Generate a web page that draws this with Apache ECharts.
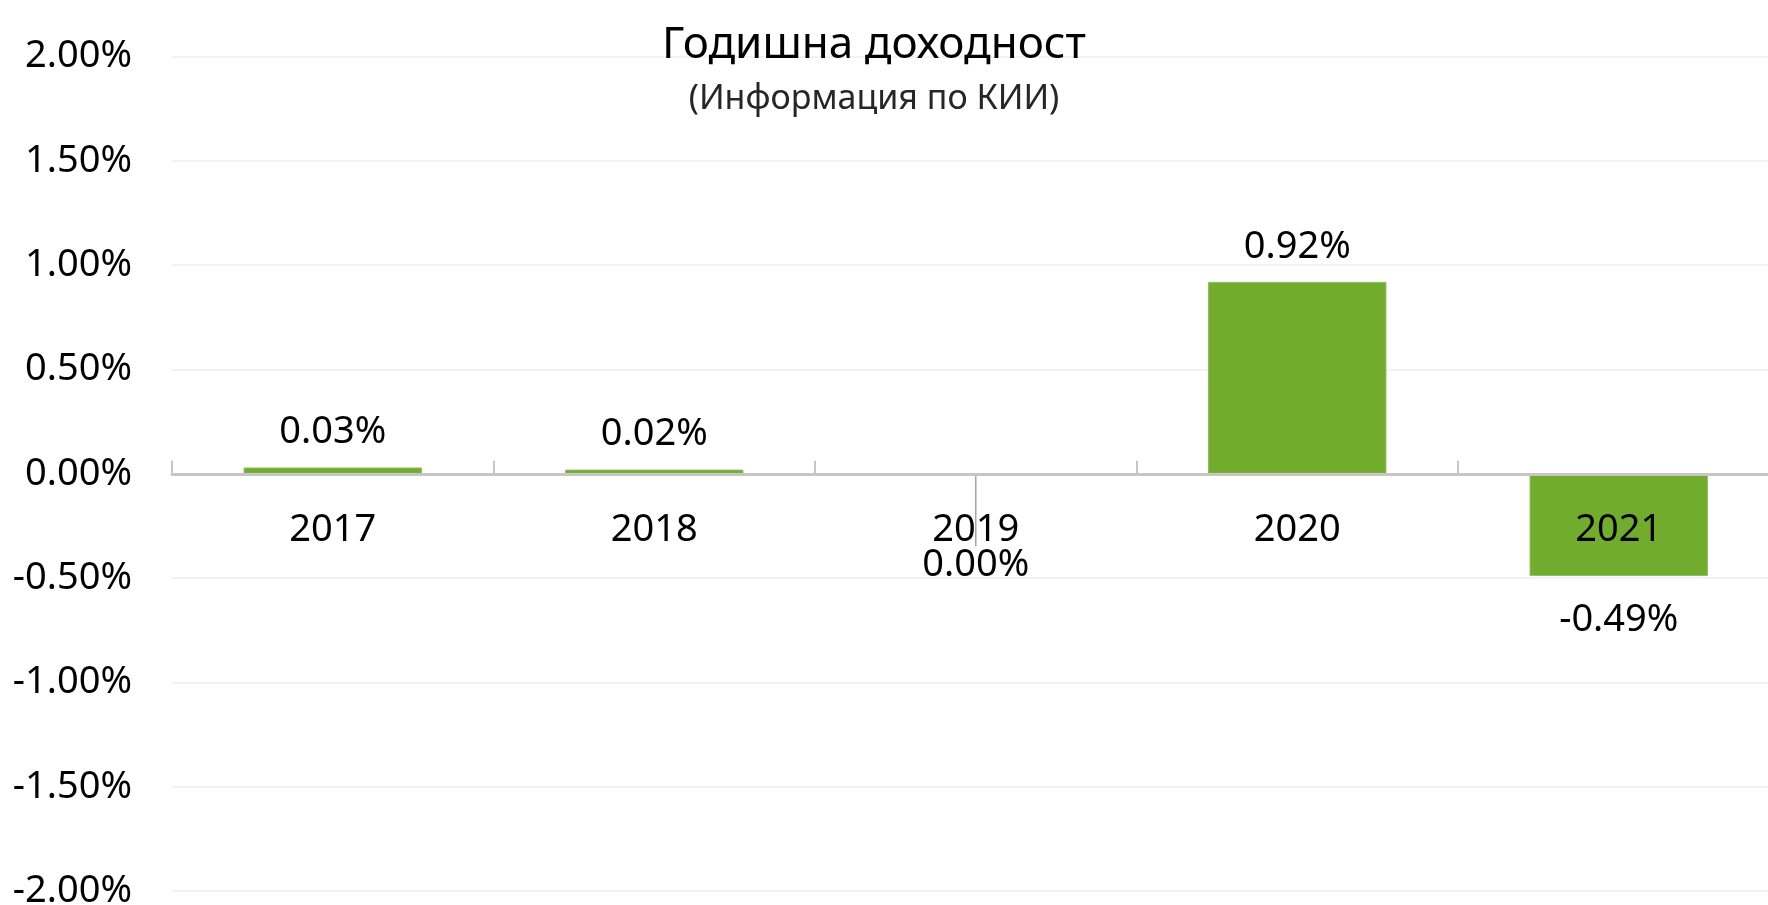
<!DOCTYPE html>
<html>
<head>
<meta charset="utf-8">
<script src="https://cdn.jsdelivr.net/npm/echarts@6/dist/echarts.min.js"></script>
<style>html,body{margin:0;padding:0;background:#fff;}#c{width:1768px;height:905px;}</style>
</head>
<body>
<div id="c"></div>
<script>
const titleText = 'Годишна доходност';
const subtitleText = '(Информация по КИИ)';
const categories = ['2017', '2018', '2019', '2020', '2021'];
const values = [0.03, 0.02, 0.00, 0.92, -0.49];
const yMin = -2, yMax = 2, yStep = 0.5;

const FONT = '"Noto Sans", "Open Sans", sans-serif';
const chart = echarts.init(document.getElementById('c'));

const GRID_TOP = 56.5, GRID_BOTTOM = 14, H = 905;
const gridH = H - GRID_TOP - GRID_BOTTOM;
const zeroOffset = -gridH * (0 - yMin) / (yMax - yMin);

const data = values.map((v, i) => {
  const item = { value: v };
  if (v < 0) {
    item.label = { position: 'bottom', distance: 25 };
  } else if (v === 0) {
    item.label = { position: 'bottom', distance: 4 };
    item.labelLine = { show: true, lineStyle: { color: '#a6a6a6', width: 1.5 } };
  }
  return item;
});

chart.setOption({
  animation: false,
  backgroundColor: '#ffffff',
  title: {
    text: titleText,
    subtext: subtitleText,
    left: 869,
    textAlign: 'center',
    top: 18,
    itemGap: 15,
    textStyle: { fontFamily: FONT, fontSize: 44, fontWeight: 'normal', color: '#000000' },
    subtextStyle: { fontFamily: FONT, fontSize: 34, color: '#262626' }
  },
  grid: { left: 172, right: -11.5, top: GRID_TOP, bottom: GRID_BOTTOM, containLabel: false, outerBoundsMode: 'none' },
  xAxis: {
    type: 'category',
    data: categories,
    z: 10,
    position: 'bottom',
    offset: zeroOffset,
    axisLine: { onZero: false, lineStyle: { color: '#c6c6c6', width: 3 } },
    axisTick: { show: true, inside: true, length: 13, lineStyle: { color: '#c6c6c6', width: 2 } },
    axisLabel: { margin: 37, fontFamily: FONT, fontSize: 38, color: '#000000' },
    splitLine: { show: false }
  },
  yAxis: {
    type: 'value',
    min: yMin, max: yMax, interval: yStep,
    axisLine: { show: false },
    axisTick: { show: false },
    axisLabel: {
      margin: 40, fontFamily: FONT, fontSize: 38, color: '#000000',
      formatter: v => v.toFixed(2) + '%'
    },
    splitLine: { lineStyle: { color: '#eeeeee', width: 1.5 } }
  },
  series: [{
    type: 'bar',
    data: data,
    barWidth: '55.5%',
    itemStyle: { color: '#71ac2f', borderColor: '#92c061', borderWidth: 1 },
    label: {
      show: true,
      position: 'top',
      distance: 16,
      fontFamily: FONT, fontSize: 38, color: '#000000',
      formatter: p => p.value.toFixed(2) + '%'
    },
    labelLine: { show: false },
    labelLayout: function (params) {
      if (values[params.dataIndex] === 0) {
        return { dy: 68 };
      }
      return {};
    }
  }]
});
</script>
</body>
</html>
